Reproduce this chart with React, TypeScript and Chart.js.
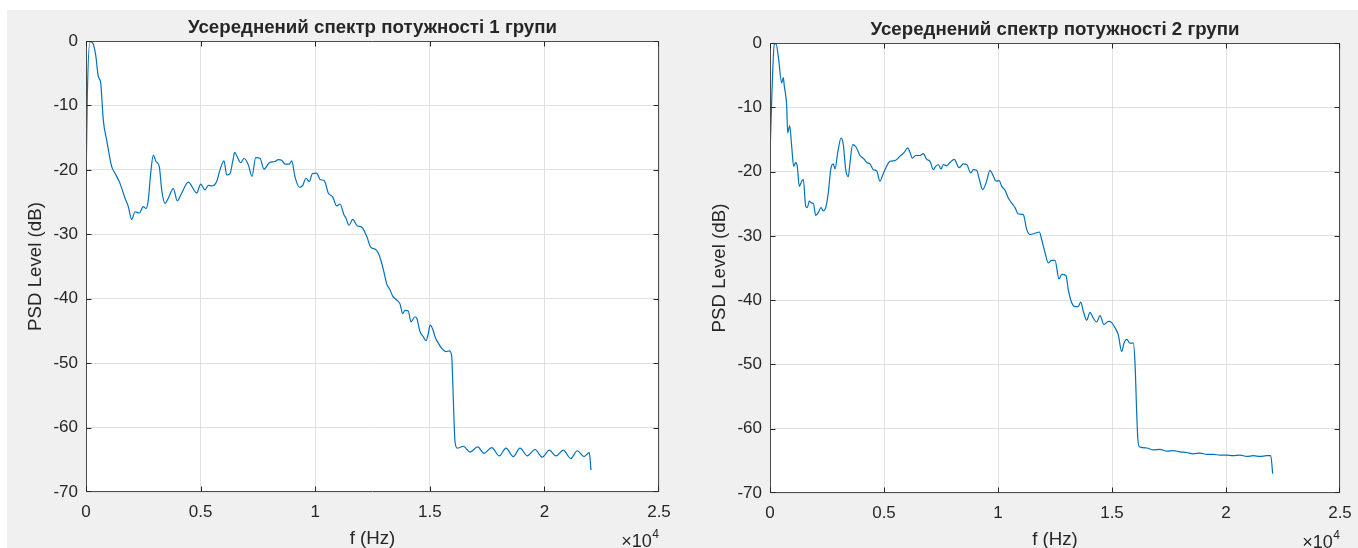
import React, { useEffect, useRef } from "react";
import { Chart, registerables } from "chart.js";

Chart.register(...registerables);

// Averaged power spectral density of group 1 (frequency in Hz, level in dB)
const freqGroup1 = [
  0, 57, 175, 292, 423, 537, 641, 755, 903, 1121, 1265, 1483, 1702, 1846, 1994, 2138,
  2326, 2500, 2618, 2718, 2823, 2936, 3054, 3198, 3303, 3447, 3591, 3809, 3983, 4175,
  4463, 4830, 5004, 5192, 5336, 5484, 5702, 5846, 6021, 6139, 6283, 6401, 6488, 6601,
  6750, 6894, 7081, 7243, 7404, 7592, 7766, 7997, 8246, 8390, 8538, 8682, 8870, 8975,
  9119, 9306, 9455, 9599, 9743, 9874, 10066, 10210, 10397, 10571, 10763, 10938, 11082,
  11257, 11344, 11475, 11636, 11837, 12029, 12247, 12421, 12609, 12753, 12901, 13014,
  13119, 13263, 13381, 13556, 13700, 13817, 13918, 14062, 14180, 14354, 14428, 14572,
  14716, 14834, 14935, 15009, 15127, 15227, 15371, 15520, 15707, 15851, 15956, 15999,
  16056, 16100, 16200, 16462, 16754, 17090, 17365, 17701, 18033, 18325, 18643, 18935,
  19254, 19590, 19908, 20214, 20506, 20825, 21148, 21436, 21728, 21959, 22033,
];
const psdGroup1 = [
  -23.1, -8.6, -0.1, -0.3, -2.2, -5.5, -6.5, -12.3, -15.4, -19.5, -20.5, -22.1, -24.4,
  -25.7, -27.7, -26.5, -26.7, -25.7, -26.0, -24.7, -20.5, -17.7, -18.7, -19.5, -23.1,
  -25.2, -24.4, -22.9, -24.8, -23.6, -21.9, -23.6, -22.2, -23.1, -22.4, -22.5, -21.8,
  -20.0, -18.6, -20.8, -20.6, -18.7, -17.3, -18.0, -18.9, -18.2, -19.2, -21.0, -18.1,
  -18.2, -19.9, -18.9, -18.7, -18.4, -18.5, -19.1, -19.1, -18.6, -21.1, -22.7, -22.4,
  -21.3, -21.8, -20.6, -20.5, -21.5, -21.7, -23.6, -24.2, -25.6, -25.3, -27.0, -27.5,
  -28.6, -27.7, -28.7, -28.9, -30.3, -32.0, -32.3, -32.9, -34.5, -36.1, -37.7, -38.6,
  -39.6, -40.2, -40.8, -42.3, -41.8, -41.9, -43.6, -42.8, -43.0, -45.1, -45.9, -46.5,
  -45.4, -44.1, -44.7, -45.9, -46.9, -47.7, -48.2, -48.1, -48.9, -52.6, -58.8, -62.2,
  -63.2, -62.9, -63.8, -63.0, -64.0, -63.1, -64.4, -63.2, -64.5, -63.2, -64.4, -63.4,
  -64.6, -63.5, -64.4, -63.5, -64.8, -63.6, -64.5, -63.9, -66.6,
];

// Averaged power spectral density of group 2 (frequency in Hz, level in dB)
const freqGroup2 = [
  0, 75, 189, 263, 364, 513, 583, 627, 732, 776, 864, 952, 1039, 1127, 1197, 1285, 1390,
  1461, 1566, 1636, 1724, 1829, 1899, 2004, 2118, 2237, 2338, 2443, 2557, 2662, 2776,
  2851, 2969, 3114, 3215, 3320, 3434, 3509, 3627, 3759, 3947, 4136, 4241, 4386, 4531,
  4680, 4825, 4926, 5044, 5263, 5483, 5702, 5890, 6039, 6140, 6241, 6390, 6579, 6724,
  6873, 7018, 7162, 7268, 7382, 7500, 7601, 7750, 7895, 8083, 8290, 8479, 8628, 8803,
  8917, 9066, 9180, 9329, 9474, 9649, 9794, 9912, 10057, 10162, 10307, 10452, 10645,
  10746, 10890, 11110, 11259, 11404, 11623, 11811, 11917, 12062, 12206, 12355, 12500,
  12676, 12794, 12983, 13084, 13233, 13377, 13522, 13627, 13741, 13890, 14035, 14180,
  14329, 14474, 14649, 14838, 14987, 15132, 15276, 15425, 15526, 15645, 15790, 15934,
  16009, 16083, 16127, 16197, 16522, 16811, 17105, 17399, 17676, 17983, 18276, 18566,
  18860, 19154, 19443, 19737, 20031, 20307, 20614, 20908, 21198, 21491, 21785, 21961,
  22049,
];
const psdGroup2 = [
  -17.6, -8.8, -0.2, -0.1, -2.1, -6.2, -5.4, -6.7, -9.8, -14.0, -12.9, -16.1, -19.2,
  -18.6, -19.2, -22.3, -21.5, -21.2, -25.4, -25.6, -24.6, -24.9, -24.9, -26.8, -26.4,
  -25.6, -26.1, -25.6, -23.3, -19.7, -18.8, -19.6, -17.1, -14.8, -15.8, -19.7, -20.8,
  -18.6, -15.8, -16.1, -17.5, -18.1, -18.6, -18.8, -19.7, -19.9, -21.5, -20.7, -19.7,
  -18.4, -18.3, -17.6, -17.0, -16.3, -17.0, -17.9, -17.5, -17.5, -17.2, -18.1, -18.4,
  -19.7, -19.2, -18.9, -19.6, -18.9, -19.1, -18.6, -18.1, -19.4, -18.8, -18.9, -20.2,
  -19.7, -19.8, -21.2, -22.8, -21.8, -19.8, -20.7, -21.5, -21.4, -22.3, -22.9, -24.1,
  -25.1, -25.6, -26.6, -26.7, -29.0, -29.8, -29.6, -29.4, -30.6, -32.6, -34.2, -33.8,
  -33.8, -36.7, -36.0, -36.2, -38.4, -40.4, -41.0, -41.0, -40.3, -41.7, -43.1, -41.9,
  -42.8, -43.4, -42.4, -43.8, -43.3, -43.5, -44.3, -45.4, -48.0, -46.7, -46.1, -46.7,
  -46.7, -49.8, -57.5, -61.2, -62.8, -63.0, -63.3, -63.2, -63.5, -63.4, -63.6, -63.7,
  -63.9, -63.8, -64.0, -64.0, -64.1, -64.1, -64.2, -64.1, -64.3, -64.2, -64.3, -64.2,
  -64.2, -67.0,
];

const chartTitles = [
  "Усереднений спектр потужності 1 групи",
  "Усереднений спектр потужності 2 групи",
];
const xAxisLabel = "f (Hz)";
const yAxisLabel = "PSD Level (dB)";
const xTickValues = [0, 5000, 10000, 15000, 20000, 25000];
const yTickValues = [-70, -60, -50, -40, -30, -20, -10, 0];
const xTickScale = 10000;
const xTickExponent = "4";

const FONT = "'Liberation Sans', Arial, Helvetica, sans-serif";
const TEXT = "#262626";
const LINE = "#0072BD";
const GRID = "#e1e1e1";
const BOX = "#4d4d4d";

// Box, inward tick marks, title, axis labels and the x10^4 multiplier
const axesDecor = {
  id: "axesDecor",
  beforeDraw(chart: any) {
    const { ctx, chartArea: a } = chart;
    ctx.save();
    ctx.fillStyle = "#ffffff";
    ctx.fillRect(a.left, a.top, a.right - a.left, a.bottom - a.top);
    ctx.restore();
  },
  afterDraw(chart: any, _args: any, opts: any) {
    const { ctx, chartArea: a, scales } = chart;
    const L = Math.round(a.left) + 0.5;
    const R = Math.round(a.right) - 0.5;
    const T = Math.round(a.top) + 0.5;
    const B = Math.round(a.bottom) - 0.5;
    const clamp = (v: number, lo: number, hi: number) => Math.min(hi, Math.max(lo, v));
    ctx.save();
    ctx.strokeStyle = BOX;
    ctx.lineWidth = 1;
    ctx.beginPath();
    ctx.rect(L, T, R - L, B - T);
    ctx.stroke();

    const tick = 5;
    ctx.strokeStyle = TEXT;
    ctx.beginPath();
    xTickValues.forEach((v) => {
      const x = clamp(Math.round(scales.x.getPixelForValue(v)) + 0.5, L, R);
      ctx.moveTo(x, B);
      ctx.lineTo(x, B - tick);
      ctx.moveTo(x, T);
      ctx.lineTo(x, T + tick);
    });
    yTickValues.forEach((v) => {
      const y = clamp(Math.round(scales.y.getPixelForValue(v)) + 0.5, T, B);
      ctx.moveTo(L, y);
      ctx.lineTo(L + tick, y);
      ctx.moveTo(R, y);
      ctx.lineTo(R - tick, y);
    });
    ctx.stroke();

    const cx = (a.left + a.right) / 2;
    const cy = (a.top + a.bottom) / 2;
    ctx.fillStyle = TEXT;

    // title
    ctx.font = `bold 18.7px ${FONT}`;
    ctx.textAlign = "center";
    ctx.textBaseline = "alphabetic";
    ctx.fillText(opts.title, cx, a.top - 8);

    // x label
    ctx.font = `18.7px ${FONT}`;
    ctx.fillText(xAxisLabel, cx, a.bottom + 52);

    // y label
    ctx.save();
    ctx.translate(a.left - 50, cy);
    ctx.rotate(-Math.PI / 2);
    ctx.textBaseline = "middle";
    ctx.fillText(yAxisLabel, 0, 0);
    ctx.restore();

    // x10^4 multiplier, right-aligned with the axis end
    ctx.textAlign = "left";
    ctx.font = `12px ${FONT}`;
    const wExp = ctx.measureText(xTickExponent).width;
    ctx.font = `18px ${FONT}`;
    const base = "\u00d710";
    const wBase = ctx.measureText(base).width;
    const xExp = a.right - wExp;
    ctx.fillText(base, xExp - wBase - 0.5, a.bottom + 55);
    ctx.font = `12px ${FONT}`;
    ctx.fillText(xTickExponent, xExp, a.bottom + 46);
    ctx.restore();
  },
};

type Geom = { yWidth: number; xHeight: number; top: number; right: number };

function makeConfig(freq: number[], psd: number[], title: string, g: Geom): any {
  const points = freq.map((f, i) => ({ x: f, y: psd[i] }));
  return {
    type: "line",
    data: {
      datasets: [
        {
          data: points,
          borderColor: LINE,
          borderWidth: 1.2,
          pointRadius: 0,
          fill: false,
          cubicInterpolationMode: "monotone",
        },
      ],
    },
    plugins: [axesDecor],
    options: {
      responsive: false,
      animation: false,
      events: [],
      layout: { padding: { top: g.top, right: g.right, left: 0, bottom: 0 } },
      plugins: {
        legend: { display: false },
        title: { display: false },
        tooltip: { enabled: false },
        axesDecor: { title },
      },
      scales: {
        x: {
          type: "linear",
          min: 0,
          max: 25000,
          afterBuildTicks: (s: any) => {
            s.ticks = xTickValues.map((v) => ({ value: v }));
          },
          afterFit: (s: any) => {
            s.height = g.xHeight;
            s.paddingLeft = 0;
            s.paddingRight = 0;
          },
          ticks: {
            maxRotation: 0,
            autoSkip: false,
            padding: 10,
            color: TEXT,
            font: { family: FONT, size: 17 },
            callback: (v: number) => String(v / xTickScale),
          },
          grid: { color: GRID, lineWidth: 1, drawTicks: false },
          border: { display: false },
        },
        y: {
          type: "linear",
          min: -70,
          max: 0,
          afterBuildTicks: (s: any) => {
            s.ticks = yTickValues.map((v) => ({ value: v }));
          },
          afterFit: (s: any) => {
            s.width = g.yWidth;
            s.paddingTop = 0;
            s.paddingBottom = 0;
          },
          ticks: {
            autoSkip: false,
            padding: 8,
            color: TEXT,
            font: { family: FONT, size: 17 },
            callback: (v: number) => String(v),
          },
          grid: { color: GRID, lineWidth: 1, drawTicks: false },
          border: { display: false },
        },
      },
    },
  };
}

function SpectrumChart(props: {
  freq: number[];
  psd: number[];
  title: string;
  left: number;
  width: number;
  geom: Geom;
}) {
  const ref = useRef<HTMLCanvasElement | null>(null);
  useEffect(() => {
    if (!ref.current) return;
    const chart = new Chart(
      ref.current,
      makeConfig(props.freq, props.psd, props.title, props.geom)
    );
    return () => chart.destroy();
  }, []);
  return (
    <canvas
      ref={ref}
      width={props.width}
      height={538}
      style={{
        position: "absolute",
        left: props.left,
        top: 10,
        width: props.width,
        height: 538,
      }}
    />
  );
}

export default function App() {
  return (
    <>
      <div
        style={{
          position: "absolute",
          left: 7,
          top: 10,
          width: 1351,
          height: 538,
          background: "#f0f0f0",
        }}
      />
      <SpectrumChart
        freq={freqGroup1}
        psd={psdGroup1}
        title={chartTitles[0]}
        left={8}
        width={665}
        geom={{ yWidth: 78, xHeight: 56, top: 31, right: 14 }}
      />
      <SpectrumChart
        freq={freqGroup2}
        psd={psdGroup2}
        title={chartTitles[1]}
        left={690}
        width={668}
        geom={{ yWidth: 80, xHeight: 55, top: 33, right: 18 }}
      />
    </>
  );
}
